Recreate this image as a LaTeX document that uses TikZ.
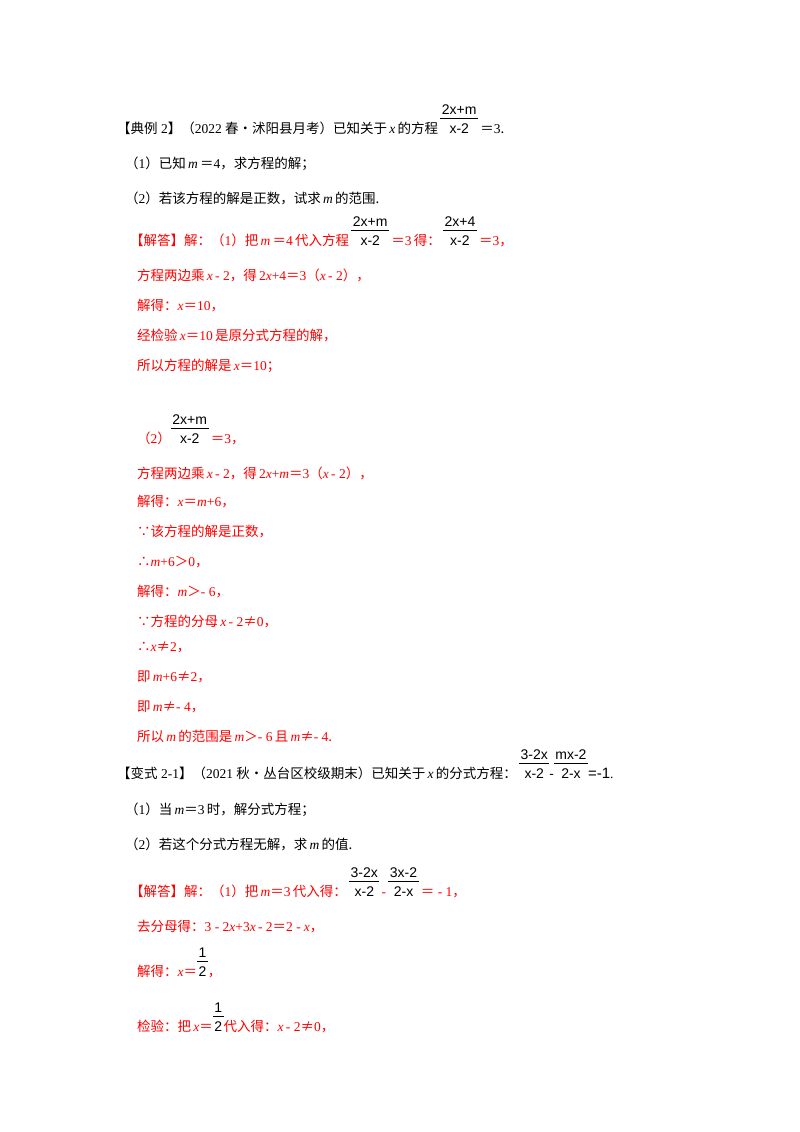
\documentclass[tikz,border=0pt]{standalone}
\usepackage{fontspec}
\setmainfont{Noto Sans CJK SC}
\newfontfamily\tm{Liberation Serif}
\newfontfamily\fs{Liberation Sans}
\newcommand\vx{{\tm\itshape x}}
\newcommand\vm{{\tm\itshape m}}
\newcommand\n[1]{{\tm #1}}
\setlength\arrayrulewidth{1pt}
\newcommand\fr[2]{{\color{black}\fs\fontsize{14}{14}\selectfont\begin{tabular}[b]{@{\kern1.5pt}c@{\kern1.5pt}}#1\\[-1pt]\hline\rule{0pt}{14pt}#2\end{tabular}}}
\begin{document}
\begin{tikzpicture}[x=1pt,y=-1pt,
  t/.style={anchor=base west,inner sep=0,font=\fontsize{13.5}{15}\selectfont},
  r/.style={t,text=red}]
\useasboundingbox[fill=white] (0,0) rectangle (800,1132);
\node[t] (a1) at (117,133) {【典例\n{ 2}】（\n{2022 }春•沭阳县月考）已知关于\,\vx\,的方程\,\fr{2x+m}{x-2}\,＝\n{3}.};
\node[t] (a2) at (125,168) {（\n{1}）已知\,\vm\,＝\n{4}，求方程的解；};
\node[t] (a3) at (125,203) {（\n{2}）若该方程的解是正数，试求\,\vm\,的范围.};
\node[r] (b1) at (130,245) {【解答】解：（\n{1}）把\,\vm\,＝\n{4}\,代入方程\,\fr{2x+m}{x-2}\,＝\n{3}\,得：\,\fr{2x+4}{x-2}\,＝\n{3}，};
\node[r] (b2) at (137,280) {方程两边乘\,\vx\,\n{- 2}，得\,\n{2}\vx\n{+4}＝\n{3}（\vx\,\n{- 2}），};
\node[r] (b3) at (137,310) {解得：\vx＝\n{10}，};
\node[r] (b4) at (137,340) {经检验\,\vx＝\n{10}\,是原分式方程的解，};
\node[r] (b5) at (137,370) {所以方程的解是\,\vx＝\n{10}；};
\node[r] (c1) at (137,443) {（\n{2}）\fr{2x+m}{x-2}\,＝\n{3}，};
\node[r] (c2) at (137,478) {方程两边乘\,\vx\,\n{- 2}，得\,\n{2}\vx\n{+}\vm＝\n{3}（\vx\,\n{- 2}），};
\node[r] (c3) at (137,506) {解得：\vx＝\vm\n{+6}，};
\node[r] (c4) at (137,536) {∵该方程的解是正数，};
\node[r] (c5) at (137,566) {∴\vm\n{+6}＞\n{0}，};
\node[r] (c6) at (137,596) {解得：\vm＞\n{- 6}，};
\node[r] (c7) at (137,626) {∵方程的分母\,\vx\,\n{- 2}≠\n{0}，};
\node[r] (c8) at (137,651) {∴\vx≠\n{2}，};
\node[r] (c9) at (137,681) {即\,\vm\n{+6}≠\n{2}，};
\node[r] (c10) at (137,711) {即\,\vm≠\n{- 4}，};
\node[r] (c11) at (137,741) {所以\,\vm\,的范围是\,\vm＞\n{- 6}\,且\,\vm≠\n{- 4}.};
\node[t] (d1) at (117,778) {【变式\n{ 2-1}】（\n{2021 }秋•丛台区校级期末）已知关于\,\vx\,的分式方程：\,\fr{3-2x}{x-2}{\fs -}\fr{mx-2}{2-x}{\fs\fontsize{15}{15}\selectfont =-1}\n{.}};
\node[t] (d2) at (125,814) {（\n{1}）当\,\vm＝\n{3}\,时，解分式方程；};
\node[t] (d3) at (125,849) {（\n{2}）若这个分式方程无解，求\,\vm\,的值.};
\node[r] (e1) at (130,896) {【解答】解：（\n{1}）把\,\vm＝\n{3}\,代入得：\,\fr{3-2x}{x-2}\,\n{-}\,\fr{3x-2}{2-x}\,＝\n{ - 1}，};
\node[r] (e2) at (137,931) {去分母得：\n{3 - 2}\vx\n{+3}\vx\,\n{- 2}＝\n{2 -} \vx，};
\node[r] (e3) at (137,976) {解得：\vx＝\fr{1}{2}，};
\node[r] (e4) at (137,1031) {检验：把\,\vx＝\fr{1}{2}代入得：\vx\,\n{- 2}≠\n{0}，};
\end{tikzpicture}
\end{document}
